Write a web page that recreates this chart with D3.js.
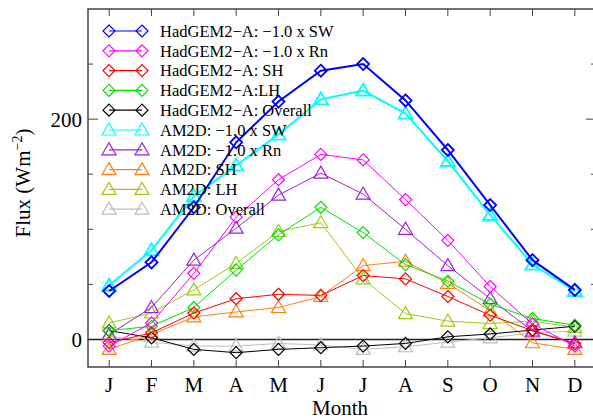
<!DOCTYPE html>
<html>
<head>
<meta charset="utf-8">
<script src="https://cdn.jsdelivr.net/npm/d3@7"></script>
<style>
  body { margin: 0; background: #fff; }
  text { font-family: "Liberation Serif", "Times New Roman", serif; fill: #000; }
</style>
</head>
<body>
<svg id="chart" width="593" height="418"></svg>
<script>
const months = ["J", "F", "M", "A", "M", "J", "J", "A", "S", "O", "N", "D"];

// HadGEM2-A
const hadSW = [44, 70, 120, 179, 216, 244, 250, 217, 172, 122, 72, 45];
const hadRn = [-6, 15, 60, 111, 145, 168, 163, 127, 90, 48, 14, -6];
const hadSH = [-3, 6, 24, 37, 41, 40, 58, 55, 39, 22, 8, -4];
const hadLH = [8, 12, 29, 63, 95, 120, 97, 68, 53, 32, 19, 13];
const hadOverall = [8, 1.5, -9, -12, -9, -7.5, -6, -3.6, 2.4, 5, 8.5, 12];

// AM2D
const amSW = [49, 81, 130, 158, 186, 218, 226, 205, 162, 113, 68, 44];
const amRn = [4.5, 29, 72, 101, 131, 151, 132, 100, 67, 37, 7.5, -3];
const amSH = [-9, 4.5, 20.5, 25, 29, 39, 67, 71, 51, 26, -3, -9];
const amLH = [15, 24, 45, 69, 98, 106, 55, 23.5, 16.6, 14.5, 16.6, 11];
const amOverall = [3, -2.4, -6, -6, -3.6, -5, -9, -6.6, -2.4, 1.5, 6, 7.5];

const yMajor = [0, 200];
const yMinor = [50, 100, 150, 250];

const series = [
  {name: "HadGEM2\u2212A: \u22121.0 x SW", values: hadSW, color: "#0000ff", mark: "diamond", w: 2},
  {name: "HadGEM2\u2212A: \u22121.0 x Rn", values: hadRn, color: "#ff00ff", mark: "diamond", w: 1},
  {name: "HadGEM2\u2212A: SH", values: hadSH, color: "#ff0000", mark: "diamond", w: 1},
  {name: "HadGEM2\u2212A:LH", values: hadLH, color: "#00e000", mark: "diamond", w: 1},
  {name: "HadGEM2\u2212A: Overall", values: hadOverall, color: "#000000", mark: "diamond", w: 1},
  {name: "AM2D: \u22121.0 x SW", values: amSW, color: "#00ffff", mark: "triangle", w: 2},
  {name: "AM2D: \u22121.0 x Rn", values: amRn, color: "#9a20e0", mark: "triangle", w: 1},
  {name: "AM2D: SH", values: amSH, color: "#ff8010", mark: "triangle", w: 1},
  {name: "AM2D: LH", values: amLH, color: "#9acd10", mark: "triangle", w: 1},
  {name: "AM2D: Overall", values: amOverall, color: "#bdbdbd", mark: "triangle", w: 1}
];

const svg = d3.select("#chart");
const pLeft = 88, pRight = 596, pTop = 9, pBottom = 367;

const x = d3.scaleLinear().domain([0.5, 12.5]).range([pLeft, pRight]);
const y = d3.scaleLinear().domain([-25, 300]).range([pBottom, pTop]);

const axisColor = "#444";

const marks = {
  diamond: "M0,-6L6,0L0,6L-6,0Z",
  triangle: "M0,-7L7,5L-7,5Z"
};

// frame
svg.append("rect")
  .attr("x", pLeft).attr("y", pTop)
  .attr("width", pRight - pLeft).attr("height", pBottom - pTop)
  .attr("fill", "none").attr("stroke", axisColor).attr("stroke-width", 1.5);

// x ticks, bottom and top
months.forEach((m, i) => {
  const xp = x(i + 1);
  svg.append("line").attr("x1", xp).attr("x2", xp).attr("y1", pBottom).attr("y2", pBottom - 7)
    .attr("stroke", axisColor);
  svg.append("line").attr("x1", xp).attr("x2", xp).attr("y1", pTop).attr("y2", pTop + 7)
    .attr("stroke", axisColor);
  svg.append("text").attr("x", xp).attr("y", 392)
    .attr("text-anchor", "middle").attr("font-size", 21).text(m);
});

// y ticks
yMajor.forEach(v => {
  svg.append("line").attr("x1", pLeft).attr("x2", pLeft + 10).attr("y1", y(v)).attr("y2", y(v))
    .attr("stroke", axisColor);
  svg.append("line").attr("x1", pRight).attr("x2", pRight - 10).attr("y1", y(v)).attr("y2", y(v))
    .attr("stroke", axisColor);
  svg.append("text").attr("x", 82).attr("y", y(v)).attr("dy", "0.35em")
    .attr("text-anchor", "end").attr("font-size", 21).text(v);
});
yMinor.forEach(v => {
  svg.append("line").attr("x1", pLeft).attr("x2", pLeft + 5).attr("y1", y(v)).attr("y2", y(v))
    .attr("stroke", axisColor);
  svg.append("line").attr("x1", pRight).attr("x2", pRight - 5).attr("y1", y(v)).attr("y2", y(v))
    .attr("stroke", axisColor);
});

// zero line
svg.append("line").attr("x1", pLeft).attr("x2", pRight).attr("y1", y(0)).attr("y2", y(0))
  .attr("stroke", "#222").attr("stroke-width", 1.5);

// axis titles
svg.append("text").attr("x", 340).attr("y", 415)
  .attr("text-anchor", "middle").attr("font-size", 21).text("Month");

const yt = svg.append("text")
  .attr("transform", "translate(30,183) rotate(-90)")
  .attr("text-anchor", "middle").attr("font-size", 21);
yt.append("tspan").text("Flux (Wm");
yt.append("tspan").attr("font-size", 14).attr("dy", -8).text("\u22122");
yt.append("tspan").attr("dy", 8).text(")");

// series
const line = d3.line().x((d, i) => x(i + 1)).y(d => y(d));
const plot = svg.append("g");

series.slice().reverse().forEach(s => {
  plot.append("path")
    .attr("d", line(s.values))
    .attr("fill", "none")
    .attr("stroke", s.color)
    .attr("stroke-width", s.w);
  plot.selectAll(null)
    .data(s.values)
    .enter()
      .append("path")
      .attr("d", marks[s.mark])
      .attr("transform", (d, i) => "translate(" + x(i + 1) + "," + y(d) + ")")
      .attr("fill", "none")
      .attr("stroke", s.color)
      .attr("stroke-width", s.w === 2 ? 1.8 : 1.2);
});

// legend
const legend = svg.append("g");
series.forEach((s, i) => {
  const ly = 31 + i * 19.8;
  legend.append("line").attr("x1", 109).attr("x2", 142).attr("y1", ly).attr("y2", ly)
    .attr("stroke", s.color).attr("stroke-width", 1.2);
  [109, 142].forEach(lx => {
    legend.append("path").attr("d", marks[s.mark])
      .attr("transform", "translate(" + lx + "," + ly + ")")
      .attr("fill", "none").attr("stroke", s.color).attr("stroke-width", 1.2);
  });
  legend.append("text").attr("x", 160).attr("y", ly).attr("dy", "0.35em")
    .attr("font-size", 16.5).text(s.name);
});
</script>
</body>
</html>
